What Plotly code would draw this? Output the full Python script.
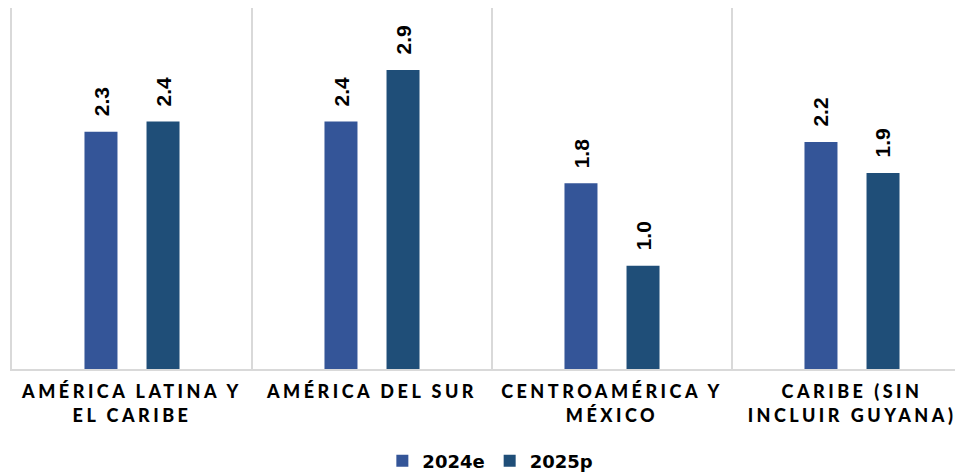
import plotly.graph_objects as go

categories = ["AMÉRICA LATINA Y<br>EL CARIBE", "AMÉRICA DEL SUR", "CENTROAMÉRICA Y<br>MÉXICO", "CARIBE (SIN<br>INCLUIR GUYANA)"]
series_names = ["2024e", "2025p"]
values_2024e = [2.3, 2.4, 1.8, 2.2]
values_2025p = [2.4, 2.9, 1.0, 1.9]

colors = ["#345598", "#1F4E78"]

def spaced(label):
    return "<br>".join(f'<span style="letter-spacing:3.5px">{line}</span>' for line in label.split("<br>"))

fig = go.Figure()
for name, vals, col in zip(series_names, [values_2024e, values_2025p], colors):
    fig.add_trace(go.Bar(x=categories, y=vals, name=name, marker=dict(color=col, line=dict(width=0))))

annotations = []
for vals, shift in zip([values_2024e, values_2025p], [-31, 31]):
    for c, v in zip(categories, vals):
        annotations.append(dict(
            x=c, y=v, xref="x", yref="y", text=f"{v:.1f}", textangle=-90,
            showarrow=False, yanchor="bottom", xanchor="center", xshift=shift, yshift=13,
            font=dict(family="Liberation Sans", size=21, color="#000000", weight="bold"),
        ))

fig.update_layout(
    width=955, height=474,
    margin=dict(l=4, r=0, t=0, b=113),
    paper_bgcolor="white", plot_bgcolor="white",
    barmode="group", bargap=0.483, bargroupgap=0.468,
    showlegend=True,
    legend=dict(orientation="h", x=0.503, xanchor="center", y=-0.255, yanchor="middle",
                font=dict(family="DejaVu Sans", size=18, color="#000000", weight="bold"),
                itemwidth=30, traceorder="normal"),
    annotations=annotations,
    xaxis=dict(
        type="category", range=[-0.5, -0.5 + 951/240],
        tickson="boundaries", ticks="", showgrid=True, gridcolor="#D9D9D9", gridwidth=1.5,
        showline=True, linecolor="#D9D9D9", linewidth=1.5,
        tickvals=categories, ticktext=[spaced(c) for c in categories],
        tickfont=dict(family="Lato", size=18, color="#000000", weight=900),
        ticklabelstandoff=6,
        fixedrange=True,
    ),
    yaxis=dict(
        range=[0, 3.5], showgrid=False, zeroline=False, showticklabels=False, ticks="",
        showline=True, linecolor="#D9D9D9", linewidth=1.5, fixedrange=True,
    ),
)

fig.write_html("out.html")
